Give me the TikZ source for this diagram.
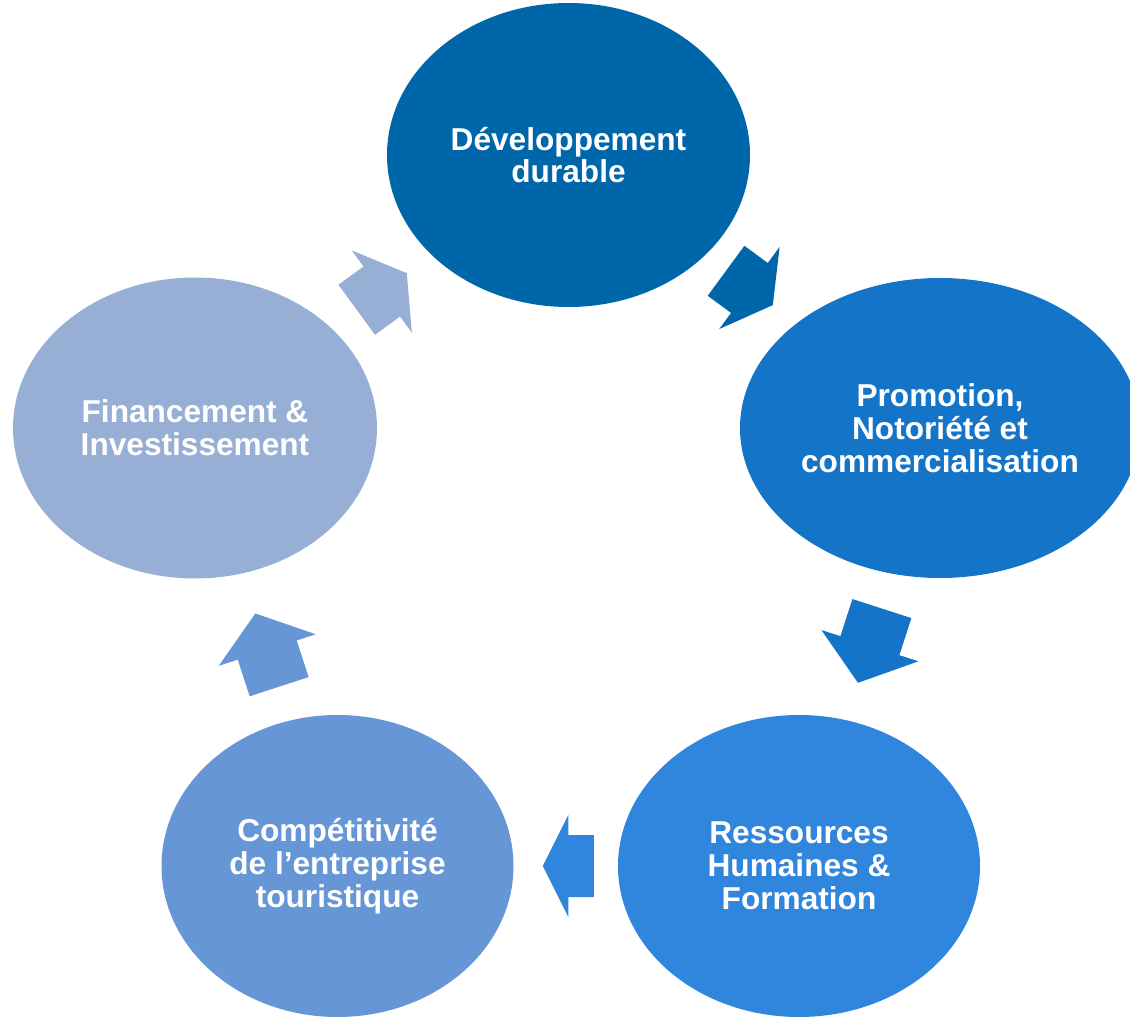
\documentclass[tikz,border=0pt]{standalone}
\usepackage{fontspec}
\setmainfont{Liberation Sans}
\usetikzlibrary{shapes.geometric}

\definecolor{devblue}{HTML}{0066AA}
\definecolor{promoblue}{HTML}{1474C8}
\definecolor{rhblue}{HTML}{3085DC}
\definecolor{compblue}{HTML}{6796D6}
\definecolor{finblue}{HTML}{98AFD5}

\begin{document}
\begin{tikzpicture}[
    bubble/.style={ellipse, inner sep=0pt, text=white, align=center, font=\fontsize{18}{18.7}\selectfont\bfseries},
    % \arrowlen = half length of the block arrow
    cyclearrow/.pic={\fill (-\arrowlen,-0.62) -- (0,-0.62) -- (0,-1.02) -- (\arrowlen,0) -- (0,1.02) -- (0,0.62) -- (-\arrowlen,0.62) -- cycle;}
]
\useasboundingbox (0,0) rectangle (22.6,20.34);

% the five stages of the cycle
\node[bubble, fill=devblue, minimum width=7.26cm, minimum height=6.08cm] (dev) at (11.37,17.24) {Développement\\durable};
\node[bubble, fill=promoblue, minimum width=8cm, minimum height=6cm] (promo) at (18.8,11.78) {Promotion,\\Notoriété et\\commercialisation};
\node[bubble, fill=rhblue, minimum width=7.24cm, minimum height=6.04cm] (rh) at (15.98,3.02) {Ressources\\Humaines \&\\Formation};
\node[bubble, fill=compblue, minimum width=7.04cm, minimum height=6.04cm] (comp) at (6.75,3.02) {Compétitivité\\de l’entreprise\\touristique};
\node[bubble, fill=finblue, minimum width=7.28cm, minimum height=6.02cm] (fin) at (3.9,11.78) {Financement \&\\Investissement};

% block arrows half way between the stages
\foreach \from/\to/\col/\arrowlen/\where in {dev/promo/devblue/0.58/0.487, promo/rh/promoblue/0.78/0.497, rh/comp/rhblue/0.51/0.5, comp/fin/compblue/0.77/0.493, fin/dev/finblue/0.62/0.5}
    \path (\from.center) -- pic[pos=\where, sloped, allow upside down, fill=\col] {cyclearrow} (\to.center);
\end{tikzpicture}
\end{document}
